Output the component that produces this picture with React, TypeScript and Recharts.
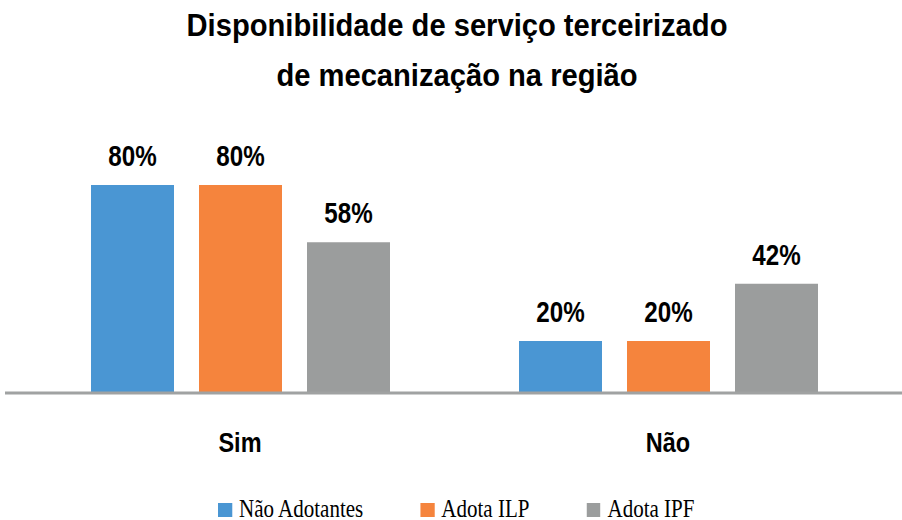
import React from 'react';
import { BarChart, Bar, XAxis, YAxis, LabelList } from 'recharts';

const categories = ['Sim', 'Não'];
const naoAdotantes = [80, 20];
const adotaILP = [80, 20];
const adotaIPF = [58, 42];

const seriesKeys = ['naoAdotantes', 'adotaILP', 'adotaIPF'];
const seriesNames = ['Não Adotantes', 'Adota ILP', 'Adota IPF'];
const seriesColors = ['#4a96d3', '#f5843d', '#9b9d9d'];

const titleLines = ['Disponibilidade de serviço terceirizado', 'de mecanização na região'];

const data = categories.map((cat, i) => ({
  cat,
  naoAdotantes: naoAdotantes[i],
  adotaILP: adotaILP[i],
  adotaIPF: adotaIPF[i],
}));

const SANS = "'Liberation Sans', Arial, sans-serif";
const SERIF = "'Liberation Serif', 'Times New Roman', serif";

// bar value labels, condensed like the original
const ValueLabel = (props: any) => {
  const { x, y, width, value } = props;
  const cx = x + width / 2;
  const cy = y - 19;
  return (
    <text
      transform={`translate(${cx},${cy}) scale(0.82,1)`}
      textAnchor="middle"
      fontFamily={SANS}
      fontWeight="bold"
      fontSize={29.5}
      fill="#000"
    >
      {value}%
    </text>
  );
};

const CategoryTick = (props: any) => {
  const { x, y, payload } = props;
  return (
    <text
      transform={`translate(${x},${y + 51}) scale(0.84,1)`}
      textAnchor="middle"
      fontFamily={SANS}
      fontWeight="bold"
      fontSize={28}
      fill="#000"
    >
      {payload.value}
    </text>
  );
};

const LegendBox: React.FC = () => (
  <div
    style={{
      position: 'absolute',
      left: 218,
      top: 498.5,
      display: 'flex',
      alignItems: 'flex-end',
      transform: 'scaleX(0.84)',
      transformOrigin: 'left top',
      fontFamily: SERIF,
      fontSize: 25,
      lineHeight: '20px',
      color: '#000',
      whiteSpace: 'nowrap',
    }}
  >
    {seriesNames.map((name, i) => (
      <div key={name} style={{ display: 'flex', alignItems: 'flex-end', marginRight: 68 }}>
        <span
          style={{
            display: 'inline-block',
            width: 16.7,
            height: 14,
            background: seriesColors[i],
            marginRight: 8.3,
            marginBottom: 1.5,
          }}
        />
        <span>{name}</span>
      </div>
    ))}
  </div>
);

const App: React.FC = () => {
  return (
    <div style={{ position: 'absolute', left: 0, top: 0, width: 902, height: 520, background: '#fff' }}>
      <div
        style={{
          position: 'absolute',
          left: 0,
          top: 1.3,
          width: 914,
          textAlign: 'center',
          fontFamily: SANS,
          fontWeight: 'bold',
          fontSize: 31,
          lineHeight: '50px',
          color: '#000',
          transform: 'scaleX(0.94)',
          transformOrigin: 'center top',
          whiteSpace: 'nowrap',
        }}
      >
        {titleLines.map((t) => (
          <div key={t}>{t}</div>
        ))}
      </div>

      <BarChart
        width={902}
        height={520}
        data={data}
        margin={{ top: 133, right: 0, left: 5, bottom: 97 }}
        barSize={83}
        barGap={25}
      >
        <YAxis hide domain={[0, 100]} />
        <XAxis
          dataKey="cat"
          height={30}
          padding={{ left: 21, right: 20 }}
          axisLine={{ stroke: '#a0a2a2', strokeWidth: 3 }}
          tickLine={false}
          tick={<CategoryTick />}
          interval={0}
        />
        {seriesKeys.map((key, i) => (
          <Bar key={key} dataKey={key} name={seriesNames[i]} fill={seriesColors[i]} isAnimationActive={false}>
            <LabelList dataKey={key} content={<ValueLabel />} />
          </Bar>
        ))}
      </BarChart>

      <LegendBox />
    </div>
  );
};

export default App;
